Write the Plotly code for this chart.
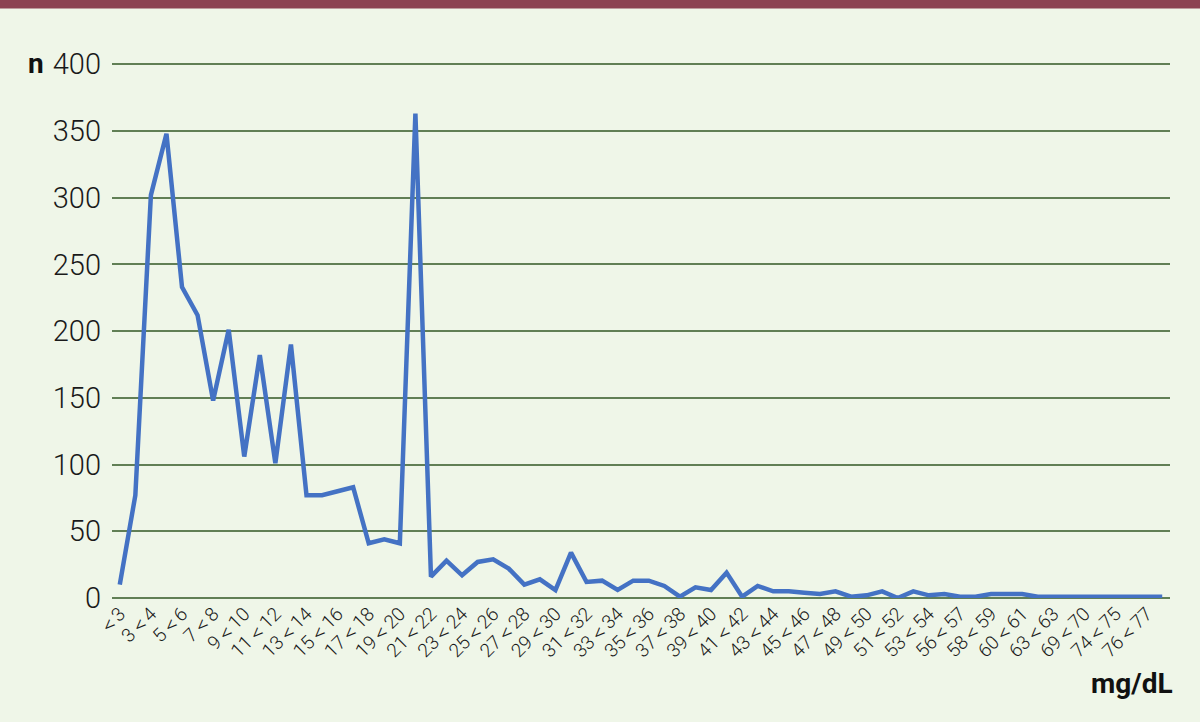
import plotly.graph_objects as go

categories = [
    "＜3", "2＜3", "3＜4", "4＜5", "5＜6", "6＜7", "7＜8", "8＜9", "9＜10", "10＜11",
    "11＜12", "12＜13", "13＜14", "14＜15", "15＜16", "16＜17", "17＜18", "18＜19", "19＜20", "20＜21",
    "21＜22", "22＜23", "23＜24", "24＜25", "25＜26", "26＜27", "27＜28", "28＜29", "29＜30", "30＜31",
    "31＜32", "32＜33", "33＜34", "34＜35", "35＜36", "36＜37", "37＜38", "38＜39", "39＜40", "40＜41",
    "41＜42", "42＜43", "43＜44", "44＜45", "45＜46", "46＜47", "47＜48", "48＜49", "49＜50", "50＜51",
    "51＜52", "52＜53", "53＜54", "54＜56", "56＜57", "57＜58", "58＜59", "59＜60", "60＜61", "61＜62",
    "63＜63", "64＜69", "69＜70", "70＜74", "74＜75", "75＜76", "76＜77", "77＜78",
]

counts = [
    10, 77, 302, 348, 233, 212, 148, 201, 106, 182,
    101, 190, 77, 77, 80, 83, 41, 44, 41, 363,
    16, 28, 17, 27, 29, 22, 10, 14, 6, 34,
    12, 13, 6, 13, 13, 9, 1, 8, 6, 19,
    1, 9, 5, 5, 4, 3, 5, 1, 2, 5,
    0, 5, 2, 3, 1, 1, 3, 3, 3, 1,
    1, 1, 1, 1, 1, 1, 1, 1,
]

y_ticks = [0, 50, 100, 150, 200, 250, 300, 350, 400]
x_ticks = categories[::2]

BG = "#eff6e8"
GRID = "#617f55"
FONT = "Roboto, sans-serif"

fig = go.Figure()
fig.add_trace(go.Scatter(
    x=categories, y=counts, mode="lines",
    line=dict(color="#4472c4", width=4.5),
    hoverinfo="x+y",
))

fig.update_layout(
    width=1200, height=722,
    margin=dict(l=112, r=30, t=63, b=124),
    paper_bgcolor=BG, plot_bgcolor=BG,
    showlegend=False,
    font=dict(family=FONT, color="#222222"),
)

fig.update_xaxes(
    type="category",
    categoryorder="array", categoryarray=categories,
    range=[-0.5, len(categories) - 0.5],
    tickmode="array", tickvals=x_ticks, ticktext=x_ticks,
    tickangle=-45,
    tickfont=dict(size=19, family=FONT, color="#1a1a1a", weight=300),
    showgrid=False, showline=False, zeroline=False, ticks="",
)

fig.update_yaxes(
    range=[0, 401],
    tickmode="array", tickvals=y_ticks,
    tickfont=dict(size=29, family=FONT, color="#1a1a1a", weight=300),
    showgrid=True, gridcolor=GRID, gridwidth=2,
    zeroline=True, zerolinecolor=GRID, zerolinewidth=2,
    showline=False, ticks="", ticklabelstandoff=10,
)

fig.add_shape(type="rect", xref="paper", yref="paper",
              x0=-0.2, x1=1.2, y0=1.102, y1=1.2,
              fillcolor="#8c4352", line=dict(width=0), layer="above")

fig.add_annotation(text="<b>n</b>", xref="paper", yref="paper",
                   x=-0.072, y=1.0, xanchor="center", yanchor="middle",
                   showarrow=False, font=dict(size=28, family=FONT, color="#111111"))
fig.add_annotation(text="<b>mg/dL</b>", xref="paper", yref="paper",
                   x=1.005, y=-0.16, xanchor="right", yanchor="middle",
                   showarrow=False, font=dict(size=28, family=FONT, color="#111111"))

fig.write_html("out.html",
               config={"displayModeBar": False},
               post_script="document.body.style.margin='0';document.body.style.overflow='hidden';")
